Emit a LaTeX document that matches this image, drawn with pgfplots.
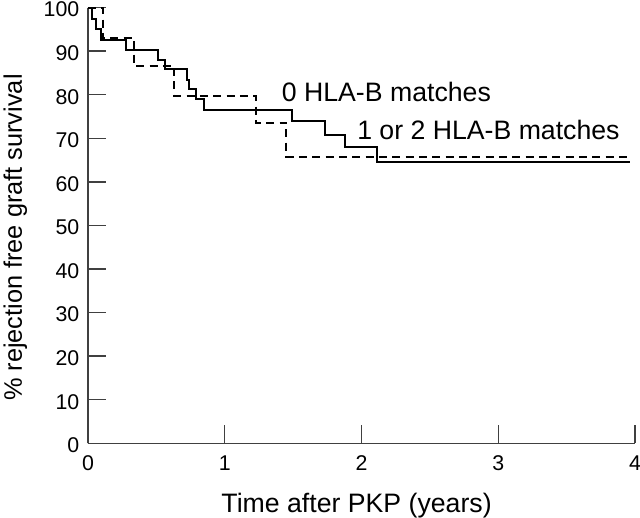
\documentclass[border=0pt]{standalone}
\usepackage{fontspec}
\setmainfont{Liberation Sans}
\usepackage{pgfplots}
\pgfplotsset{compat=1.18}
\begin{document}
\begin{tikzpicture}
\begin{axis}[
  scale only axis,
  width=410.25pt, height=326.85pt,
  xmin=0, xmax=4, ymin=0, ymax=100,
  axis x line=bottom, axis y line=left,
  axis line style={-, line width=1.1pt, black!75},
  xtick={0,1,2,3,4},
  ytick={0,10,...,100},
  tick align=inside,
  major tick length=13.5pt,
  tick style={line width=1.1pt, black!75},
  /pgf/number format/assume math mode=true,
  ticklabel style={font=\fontsize{16}{19}\selectfont},
  yticklabel style={xshift=-3pt, yshift=-1.5pt},
  xticklabel style={yshift=-6pt},
  xlabel={Time after PKP (years)},
  ylabel={\% rejection free graft survival},
  xlabel style={font=\fontsize{20}{24}\selectfont, at={(axis description cs:0.491,-0.159)}, anchor=base},
  ylabel style={font=\fontsize{19}{23}\selectfont, at={(axis description cs:-0.1207,0.472)}, anchor=base, rotate=0},
  clip=false,
]
% 0 HLA-B matches (solid)
\addplot[const plot, line width=1.5pt, black] coordinates {
  (0,100) (0.027,97.3) (0.058,95.0) (0.093,92.5) (0.28,90.2) (0.51,87.9)
  (0.56,86.0) (0.725,83.4) (0.74,81.2) (0.79,78.9) (0.847,76.6)
  (1.494,74.0) (1.73,70.7) (1.883,68.1) (2.11,64.6) (3.96,64.6)
};
% 1 or 2 HLA-B matches (dashed)
\addplot[const plot, line width=1.5pt, black, dash pattern=on 6pt off 4pt] coordinates {
  (0,100) (0.107,92.9) (0.338,86.6) (0.63,79.8) (1.226,73.6) (1.45,65.8) (3.96,65.8)
};
\node[anchor=base west, font=\fontsize{20}{24}\selectfont, inner sep=0pt] at (axis cs:1.416,78.5) {0 HLA-B matches};
\node[anchor=base west, font=\fontsize{20}{24}\selectfont, inner sep=0pt] at (axis cs:1.967,69.8) {1 or 2 HLA-B matches};
\end{axis}
\pgfresetboundingbox
\path[use as bounding box] (-66pt,-56pt) rectangle (414pt,332.5pt);
\end{tikzpicture}
\end{document}
